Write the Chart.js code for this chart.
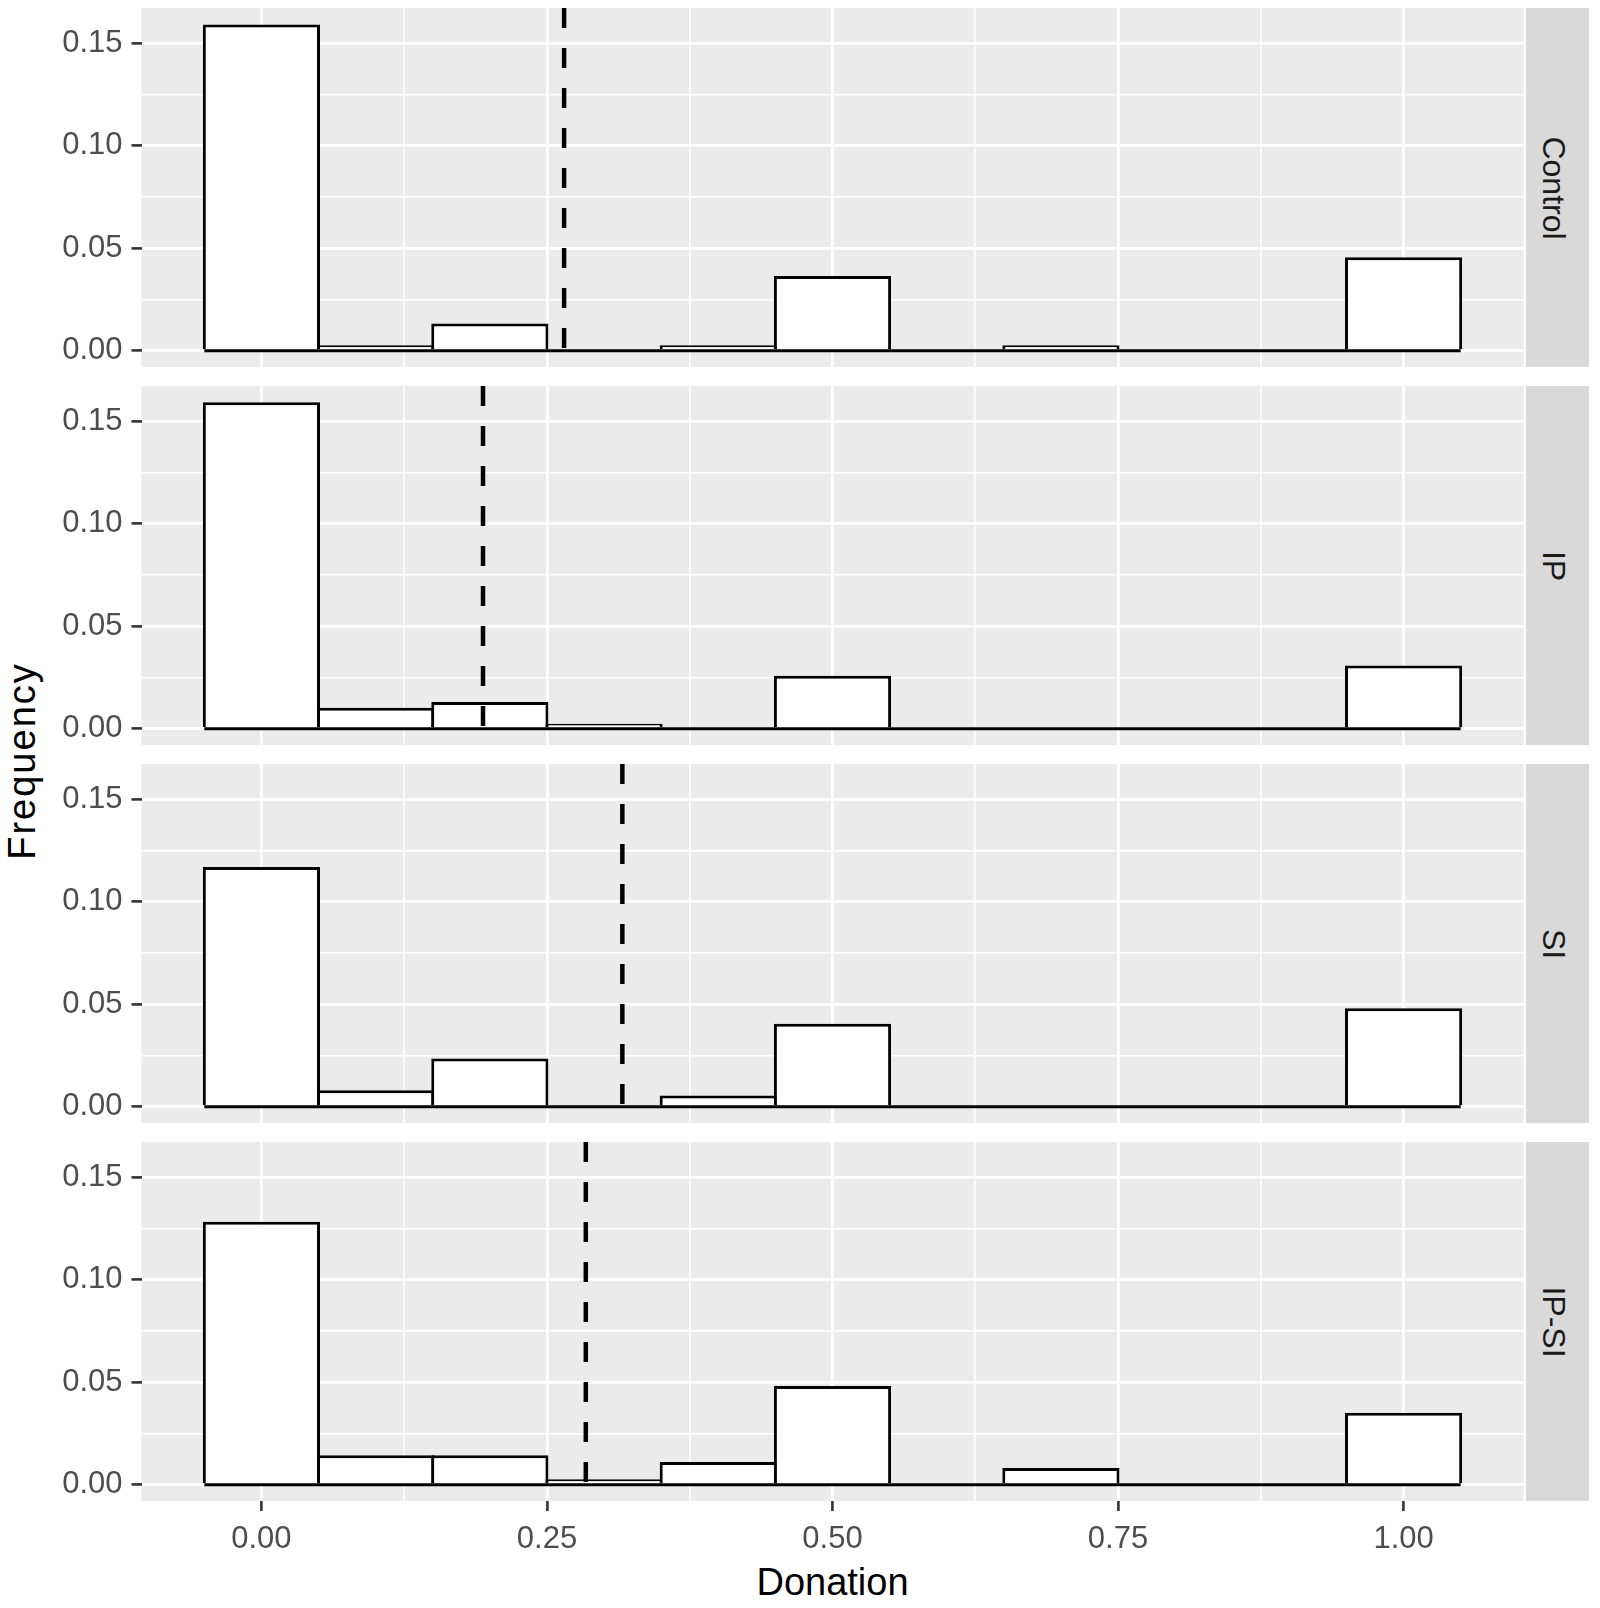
<!DOCTYPE html>
<html>
<head>
<meta charset="utf-8">
<title>Donation</title>
<script src="https://cdn.jsdelivr.net/npm/chart.js@4.4.1/dist/chart.umd.min.js"></script>
<style>
  html, body { margin: 0; padding: 0; background: #FFFFFF; }
  body { position: relative; width: 1600px; height: 1608px; overflow: hidden; font-family: "Liberation Sans", Arial, sans-serif; }
  canvas { position: absolute; left: 0; }
  .strip { position: absolute; left: 1526px; width: 63px; background: #D9D9D9; }
  .strip span { position: absolute; left: 50%; top: 50%; transform: translate(-50%, -50%) translateX(-4px) rotate(90deg); font-size: 32px; color: #1A1A1A; white-space: nowrap; line-height: 1; }
  #tituloX { position: absolute; left: 141.5px; width: 1382px; top: 1563px; text-align: center; font-size: 38px; line-height: 38px; color: #000; }
  #tituloY { position: absolute; left: 22px; top: 761px; transform: translate(-50%, -50%) rotate(-90deg); font-size: 38px; line-height: 38px; letter-spacing: 2px; color: #000; white-space: nowrap; }
</style>
</head>
<body>
<div id="tituloX">Donation</div>
<div id="tituloY">Frequency</div>
<script>
// Datos: frecuencia relativa por intervalo de 0.1
var grupos = ['Control', 'IP', 'SI', 'IP-SI'];
var centrosBins = [0, 0.1, 0.2, 0.3, 0.4, 0.5, 0.6, 0.7, 0.8, 0.9, 1.0];
var anchoBin = 0.1;
var frecControl = [0.1592, 0.0027, 0.0133, 0, 0.0027, 0.0364, 0, 0.0027, 0, 0, 0.0456];
var frecIP = [0.1593, 0.0102, 0.0130, 0.0024, 0, 0.0258, 0, 0, 0, 0, 0.0308];
var frecSI = [0.1170, 0.0080, 0.0235, 0, 0.0055, 0.0405, 0, 0, 0, 0, 0.0480];
var frecIPSI = [0.1283, 0.0144, 0.0144, 0.0026, 0.0111, 0.0482, 0, 0.0082, 0, 0, 0.0351];
var mediasDonacion = [0.265, 0.194, 0.316, 0.284];
var ticksDonacion = [0, 0.25, 0.5, 0.75, 1];
var ticksFrecuencia = [0, 0.05, 0.10, 0.15];

document.addEventListener("DOMContentLoaded", function() {
    var frecuencias = [frecControl, frecIP, frecSI, frecIPSI];

    // Rango de los ejes con la expansión del 5% (como ggplot)
    var maxFrec = Math.max.apply(null, frecuencias.map(function(f) { return Math.max.apply(null, f); }));
    var yMin = -0.05 * maxFrec;
    var yMax = maxFrec * 1.05;
    var xLo = centrosBins[0] - anchoBin / 2;
    var xHi = centrosBins[centrosBins.length - 1] + anchoBin / 2;
    var xMin = xLo - 0.05 * (xHi - xLo);
    var xMax = xHi + 0.05 * (xHi - xLo);

    // Líneas de rejilla: principales y secundarias a mitad de camino
    function conSecundarias(principales, min, max) {
        var paso = principales[1] - principales[0];
        var lista = [];
        for (var k = -1; k < principales.length; k++) {
            var v = principales[0] + (k + 0.5) * paso;
            if (v > min && v < max) lista.push(v);
            if (k >= 0) lista.push(principales[k]);
        }
        return lista.sort(function(a, b) { return a - b; });
    }
    function esPrincipal(v, principales) {
        return principales.some(function(p) { return Math.abs(p - v) < 1e-9; });
    }
    var lineasX = conSecundarias(ticksDonacion, xMin, xMax);
    var lineasY = conSecundarias(ticksFrecuencia, yMin, yMax);

    var fuente = '"Liberation Sans", Arial, sans-serif';
    var izquierda = 141.5;
    var derecha = 1523.5;
    var arribaPaneles = [8, 386, 764, 1142];
    var altoPanel = 359;
    var altoEjeX = 64;

    // Fondo gris del panel
    var fondoPanel = {
        id: 'fondoPanel',
        beforeDraw: function(chart) {
            var a = chart.chartArea;
            var ctx = chart.ctx;
            ctx.save();
            ctx.fillStyle = '#EBEBEB';
            ctx.fillRect(a.left, a.top, a.right - a.left, a.bottom - a.top);
            ctx.restore();
        }
    };

    function crearPanel(i) {
        var ultimo = i === grupos.length - 1;
        var canvas = document.createElement('canvas');
        canvas.width = 1600;
        canvas.height = altoPanel + (ultimo ? altoEjeX : 0);
        canvas.style.top = arribaPaneles[i] + 'px';
        document.body.appendChild(canvas);

        var strip = document.createElement('div');
        strip.className = 'strip';
        strip.style.top = arribaPaneles[i] + 'px';
        strip.style.height = altoPanel + 'px';
        var texto = document.createElement('span');
        texto.textContent = grupos[i];
        strip.appendChild(texto);
        document.body.appendChild(strip);

        var barras = centrosBins.map(function(c, j) { return { x: c, y: frecuencias[i][j] }; });

        var config = {
            type: 'bar',
            data: {
                datasets: [
                    {
                        type: 'line',
                        label: 'media',
                        data: [{ x: mediasDonacion[i], y: yMax }, { x: mediasDonacion[i], y: yMin }],
                        borderColor: '#000000',
                        borderWidth: 4.5,
                        borderDash: [20, 20],
                        borderCapStyle: 'butt',
                        pointRadius: 0,
                        order: 0
                    },
                    {
                        type: 'line',
                        label: 'base',
                        data: [{ x: xLo, y: 0 }, { x: xHi, y: 0 }],
                        borderColor: '#000000',
                        borderWidth: 3,
                        pointRadius: 0,
                        order: 1
                    },
                    {
                        label: grupos[i],
                        data: barras,
                        backgroundColor: '#FFFFFF',
                        borderColor: '#000000',
                        borderWidth: 3,
                        borderSkipped: 'start',
                        barPercentage: 1.026,
                        categoryPercentage: 1,
                        order: 2
                    }
                ]
            },
            options: {
                responsive: false,
                animation: false,
                layout: { padding: { left: 0, right: 1600 - derecha, top: 0, bottom: 0 } },
                plugins: { legend: { display: false }, tooltip: { enabled: false } },
                scales: {
                    x: {
                        type: 'linear',
                        min: xMin,
                        max: xMax,
                        offset: false,
                        border: { display: false },
                        afterBuildTicks: function(scale) {
                            scale.ticks = lineasX.map(function(v) { return { value: v }; });
                        },
                        afterFit: function(scale) {
                            scale.height = ultimo ? altoEjeX : 0;
                            scale.paddingLeft = 0;
                            scale.paddingRight = 0;
                        },
                        grid: {
                            offset: false,
                            color: '#FFFFFF',
                            lineWidth: function(c) { return c.tick && esPrincipal(c.tick.value, ticksDonacion) ? 2.8 : 1.6; },
                            drawTicks: ultimo,
                            tickLength: 10,
                            tickWidth: 2.6,
                            tickColor: function(c) { return c.tick && esPrincipal(c.tick.value, ticksDonacion) ? '#333333' : 'rgba(0,0,0,0)'; }
                        },
                        ticks: {
                            display: ultimo,
                            autoSkip: false,
                            maxRotation: 0,
                            minRotation: 0,
                            padding: 10,
                            color: '#4D4D4D',
                            font: { family: fuente, size: 31 },
                            callback: function(v) { return esPrincipal(v, ticksDonacion) ? v.toFixed(2) : ''; }
                        }
                    },
                    y: {
                        min: yMin,
                        max: yMax,
                        border: { display: false },
                        afterBuildTicks: function(scale) {
                            scale.ticks = lineasY.map(function(v) { return { value: v }; });
                        },
                        afterFit: function(scale) {
                            scale.width = izquierda;
                            scale.paddingTop = 0;
                            scale.paddingBottom = 0;
                        },
                        grid: {
                            color: '#FFFFFF',
                            lineWidth: function(c) { return c.tick && esPrincipal(c.tick.value, ticksFrecuencia) ? 2.8 : 1.6; },
                            tickLength: 10,
                            tickWidth: 2.6,
                            tickColor: function(c) { return c.tick && esPrincipal(c.tick.value, ticksFrecuencia) ? '#333333' : 'rgba(0,0,0,0)'; }
                        },
                        ticks: {
                            autoSkip: false,
                            padding: 9,
                            color: '#4D4D4D',
                            font: { family: fuente, size: 31 },
                            callback: function(v) { return esPrincipal(v, ticksFrecuencia) ? v.toFixed(2) : ''; }
                        }
                    }
                }
            },
            plugins: [fondoPanel]
        };

        new Chart(canvas.getContext('2d'), config);
    }

    for (var i = 0; i < grupos.length; i++) {
        crearPanel(i);
    }
});
</script>
</body>
</html>
